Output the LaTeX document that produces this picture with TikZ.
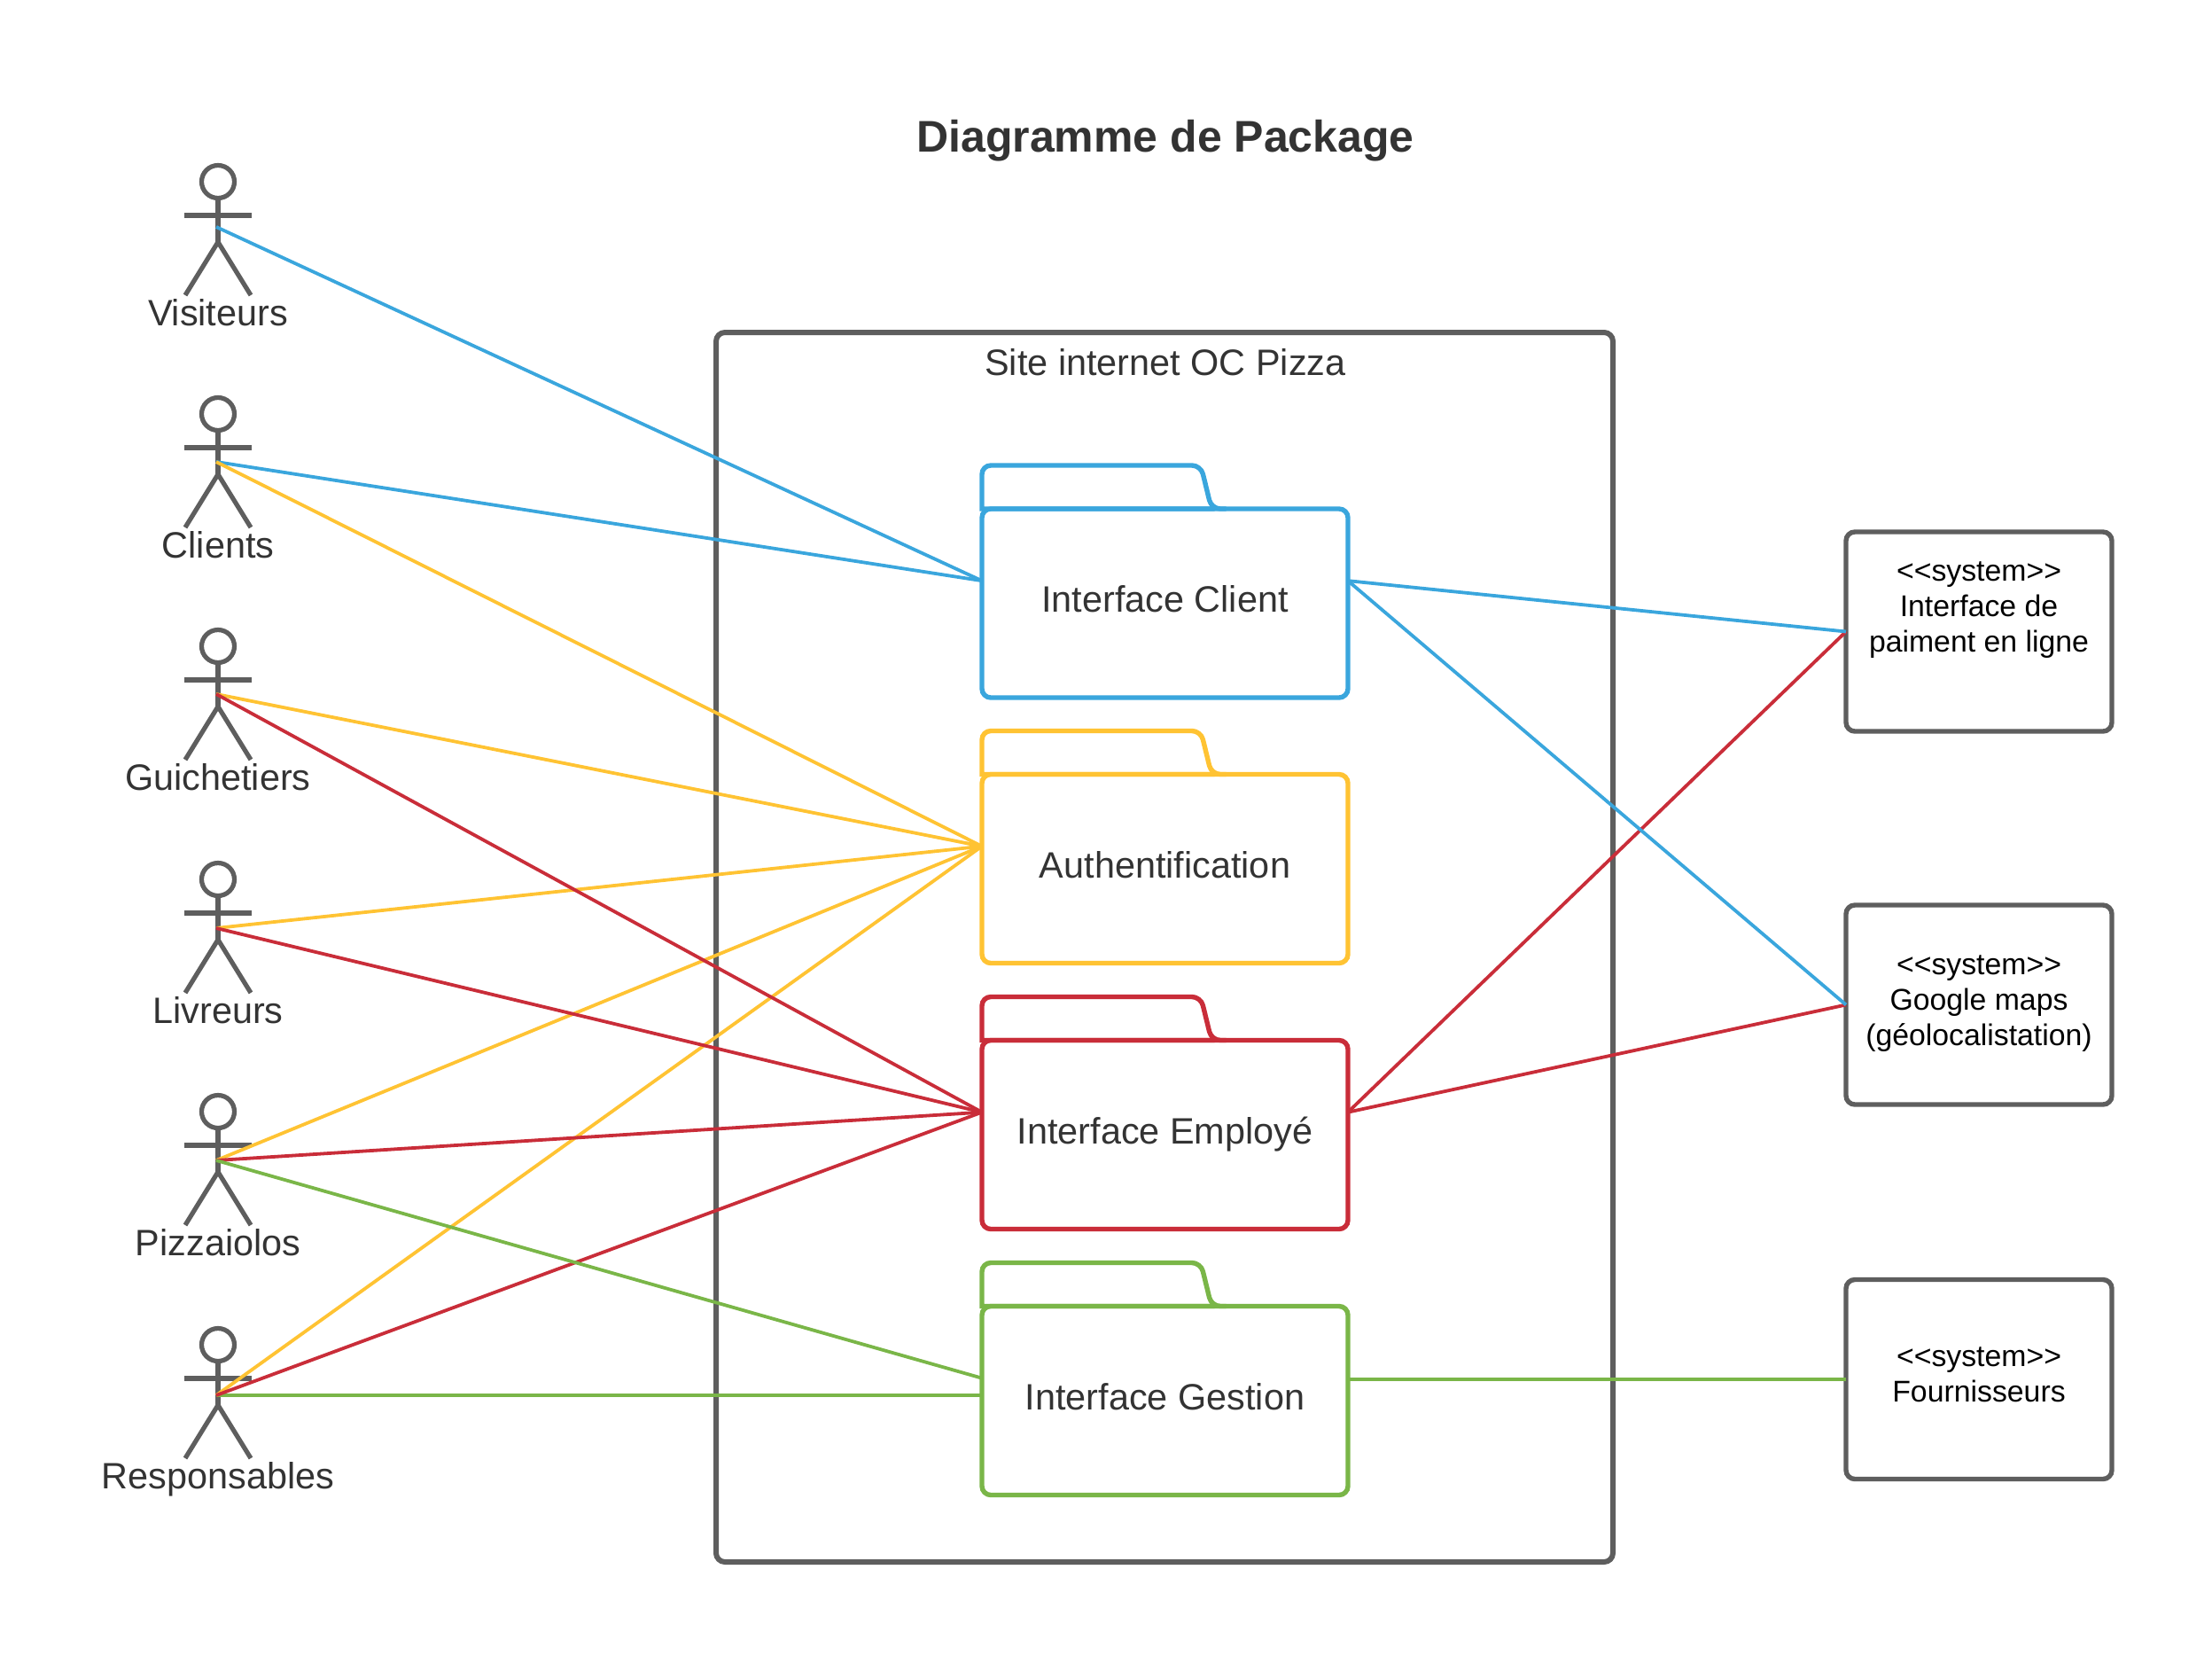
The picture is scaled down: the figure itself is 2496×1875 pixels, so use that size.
\documentclass[tikz,border=0pt]{standalone}
\usepackage{fontspec}
\setmainfont{Liberation Sans}
\definecolor{lblue}{HTML}{3AA6DD}
\definecolor{lyellow}{HTML}{FFC333}
\definecolor{lred}{HTML}{C92D39}
\definecolor{lgreen}{HTML}{7AB648}
\definecolor{lgray}{HTML}{5E5E5E}
\definecolor{ltext}{HTML}{333333}
\begin{document}
\begin{tikzpicture}[x=0.5pt, y=-0.5pt]
	\tikzset{
	    txt/.style= {text=ltext, font=\fontsize{20.7}{25}\selectfont},
	    ptitle/.style= {text=ltext, anchor=base, font=\bfseries\fontsize{25}{30}\selectfont},
	    stick/.style= {draw=lgray, line width=2.6pt},
	    ahead/.style= {circle, stick, inner sep=0pt, outer sep=0pt, minimum size=18.5pt},
	    aname/.style= {txt, anchor=base},
	    actor/.pic= {
	        \node[ahead] (-head) at (0,0) {};
	        \draw[stick] (-head.south) -- (0,68);
	        \draw[stick] (-38,38) -- (38,38);
	        \draw[stick] (-37,128) -- (0,68) -- (37,128);
	        \node[aname] (-name) at (0,162) {\tikzpictext};
	    },
	    package/.style= {rectangle, draw=#1, line width=2.7pt, rounded corners=5pt, inner sep=0pt, outer sep=0pt,
	        minimum width=206.5pt, minimum height=106.5pt, txt, text height=16pt, text depth=6pt},
	    folder/.style= {draw=#1, line width=2.7pt, rounded corners=5pt, line cap=rect},
	    system/.style= {rectangle, draw=lgray, line width=2.7pt, rounded corners=5pt, inner sep=0pt, outer sep=0pt,
	        minimum width=150pt, minimum height=112.5pt, align=center, text=black,
	        font=\fontsize{16.9}{20}\selectfont},
	    wire/.style= {line width=1.9pt},
	}
	\useasboundingbox (0,0) rectangle (2496,1875);
	
	\node[ptitle] (title) at (1315,171) {Diagramme de Package};
	
	\draw[draw=lgray, line width=3pt, rounded corners=5pt] (808,375) rectangle (1820,1762);
	\node[txt, anchor=base] (site) at (1315,423) {Site internet OC Pizza};
	
	\pic[pic text=Visiteurs] (avisit) at (246,205) {actor};
	\pic[pic text=Clients] (aclient) at (246,467) {actor};
	\pic[pic text=Guichetiers] (aguich) at (246,729) {actor};
	\pic[pic text=Livreurs] (alivr) at (246,992) {actor};
	\pic[pic text=Pizzaiolos] (apizz) at (246,1254) {actor};
	\pic[pic text=Responsables] (aresp) at (246,1517) {actor};
	
	\coordinate (cvisit) at (244,256);
	\coordinate (cclient) at (244,521);
	\coordinate (cguich) at (244,783);
	\coordinate (clivr) at (244,1047);
	\coordinate (cpizz) at (244,1309);
	\coordinate (cresp) at (244,1574);
	
	\node[package=lblue] (pclient) at (1314.5,680.5) {Interface Client};
	\draw[folder=lblue] (pclient.north west) -- ++(0,-49) -- ++(247,0) -- ++(12,49) -- ++(14,0)
	    (pclient.north west) -- ++(260,0);
	
	\node[package=lyellow] (pauth) at (1314.5,980) {Authentification};
	\draw[folder=lyellow] (pauth.north west) -- ++(0,-49) -- ++(247,0) -- ++(12,49) -- ++(14,0)
	    (pauth.north west) -- ++(260,0);
	
	\node[package=lred] (pempl) at (1314.5,1280) {Interface Employé};
	\draw[folder=lred] (pempl.north west) -- ++(0,-49) -- ++(247,0) -- ++(12,49) -- ++(14,0)
	    (pempl.north west) -- ++(260,0);
	
	\node[package=lgreen] (pgest) at (1314.5,1580) {Interface Gestion};
	\draw[folder=lgreen] (pgest.north west) -- ++(0,-49) -- ++(247,0) -- ++(12,49) -- ++(14,0)
	    (pgest.north west) -- ++(260,0);
	
	\node[system] (sbank) at (2233,712.5) {<{}<system>{}>\\Interface de\\paiment en ligne\rule[-28pt]{0pt}{1pt}};
	\node[system] (smaps) at (2233,1133.5) {<{}<system>{}>\\Google maps\\(géolocalistation)\rule[-5.1pt]{0pt}{1pt}};
	\node[system] (ssupp) at (2233,1556) {<{}<system>{}>\\Fournisseurs\rule[-5.6pt]{0pt}{1pt}};
	
	\draw[wire]
	(cresp) edge[lgreen] (cresp -| pgest.west)
	
	(cvisit) edge[lblue] (pclient.173.7)
	(cclient) edge[lblue] (pclient.173.7)
	
	(cclient) edge[lyellow] (pauth.173.7)
	(cguich) edge[lyellow] (pauth.173.7)
	(clivr) edge[lyellow] (pauth.173.7)
	(cpizz) edge[lyellow] (pauth.173.7)
	(cresp) edge[lyellow] (pauth.173.7)
	
	(cguich) edge[lred] (pempl.173.7)
	(clivr) edge[lred] (pempl.173.7)
	(cpizz) edge[lred] (pempl.173.7)
	(cresp) edge[lred] (pempl.173.7)
	(pempl.7.2) edge[lred] (sbank.west)
	(pempl.7.2) edge[lred] (smaps.west)
	
	(pclient.7.2) edge[lblue] (sbank.west)
	(pclient.7.2) edge[lblue] (smaps.west)
	
	(cpizz) edge[lgreen] (pgest.173.7)
	(pgest.east |- ssupp.west) edge[lgreen] (ssupp.west);
\end{tikzpicture}
\end{document}
